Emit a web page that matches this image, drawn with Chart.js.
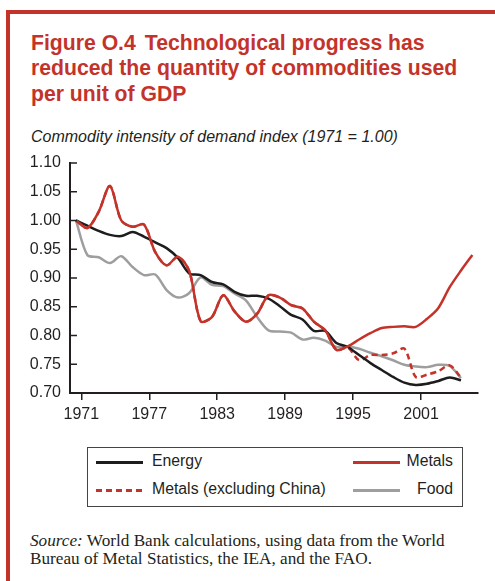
<!DOCTYPE html>
<html>
<head>
<meta charset="utf-8">
<script src="https://cdn.jsdelivr.net/npm/chart.js@4/dist/chart.umd.min.js"></script>
<style>
  body { margin: 0; width: 495px; height: 581px; background: #fff; position: relative; overflow: hidden; font-family: "Liberation Sans", Arial, sans-serif; color: #231f20; }
  .bar-top { position: absolute; left: 6px; top: 10px; width: 489px; height: 4px; background: #c4332a; }
  .bar-left { position: absolute; left: 6px; top: 10px; width: 4px; height: 571px; background: #c4332a; }
  h1 { position: absolute; left: 31px; top: 30px; margin: 0; font-size: 21.2px; line-height: 25.3px; font-weight: bold; color: #c4332a; }
  h1 .gap { display: inline-block; width: 9px; }
  .subtitle { position: absolute; left: 31px; top: 127.5px; font-size: 16px; line-height: 18px; font-style: italic; }
  canvas { position: absolute; left: 0; top: 150px; }
  .legend { position: absolute; left: 87px; top: 447px; width: 376px; height: 60px; box-sizing: border-box; border: 1px solid #444; }
  .legend .item { position: absolute; font-size: 15.8px; line-height: 18px; white-space: nowrap; }
  .legend .swatch { position: absolute; width: 47px; height: 3px; }
  .source { position: absolute; left: 30px; top: 532px; font-family: "Liberation Serif", "Times New Roman", serif; font-size: 17.2px; line-height: 18.3px; }
</style>
</head>
<body>
<div class="bar-top"></div>
<div class="bar-left"></div>
<h1>Figure O.4<span class="gap"></span>Technological progress has<br>reduced the quantity of commodities used<br>per unit of GDP</h1>
<div class="subtitle">Commodity intensity of demand index (1971 = 1.00)</div>
<canvas id="chart" width="495" height="280"></canvas>
<div class="legend" id="legend"></div>
<div class="source"><i>Source:</i> World Bank calculations, using data from the World<br>Bureau of Metal Statistics, the IEA, and the FAO.</div>
<script>
const years = [
  1971, 1972, 1973, 1974, 1975, 1976, 1977, 1978, 1979, 1980,
  1981, 1982, 1983, 1984, 1985, 1986, 1987, 1988, 1989, 1990,
  1991, 1992, 1993, 1994, 1995, 1996, 1997, 1998, 1999, 2000,
  2001, 2002, 2003, 2004, 2005, 2006
]

const energy = [
  1.000, 0.991, 0.982, 0.975, 0.973, 0.980, 0.972, 0.962, 0.952, 0.935,
  0.908, 0.905, 0.893, 0.889, 0.876, 0.869, 0.869, 0.864, 0.851, 0.836,
  0.828, 0.808, 0.808, 0.787, 0.780, 0.766, 0.752, 0.740, 0.728, 0.718,
  0.714, 0.716, 0.721, 0.727, 0.722
]

const metals = [
  1.000, 0.987, 1.015, 1.060, 1.000, 0.989, 0.993, 0.945, 0.922, 0.937,
  0.912, 0.825, 0.832, 0.870, 0.842, 0.824, 0.838, 0.870, 0.866, 0.853,
  0.847, 0.824, 0.809, 0.775, 0.781, 0.793, 0.804, 0.813, 0.815, 0.816,
  0.815, 0.829, 0.848, 0.884, 0.913, 0.940
]

const metalsExChina = [
  1.000, 0.987, 1.015, 1.060, 1.000, 0.989, 0.993, 0.945, 0.922, 0.937,
  0.912, 0.825, 0.832, 0.870, 0.842, 0.824, 0.838, 0.870, 0.866, 0.853,
  0.847, 0.824, 0.809, 0.775, 0.779, 0.757, 0.766, 0.766, 0.769, 0.777,
  0.728, 0.732, 0.738, 0.748, 0.727
]

const food = [
  1.000, 0.940, 0.936, 0.926, 0.938, 0.919, 0.905, 0.906, 0.879, 0.866,
  0.874, 0.901, 0.888, 0.886, 0.873, 0.861, 0.832, 0.809, 0.807, 0.805,
  0.793, 0.796, 0.791, 0.780, 0.781, 0.777, 0.770, 0.764, 0.757, 0.749,
  0.746, 0.745, 0.749, 0.747, 0.726
]

const xTickYears = [1971, 1977, 1983, 1989, 1995, 2001]
const yTicks = [0.70, 0.75, 0.80, 0.85, 0.90, 0.95, 1.00, 1.05, 1.10]

const red = '#c4332a'
const black = '#1e1c1c'
const grey = '#9e9e9e'
const ink = '#231f20'

const toPoints = values => values.map((value, i) => ({ x: years[i], y: value }))

const series = [
  { label: 'Energy', values: energy, color: black, dash: [], order: 1 },
  { label: 'Metals', values: metals, color: red, dash: [], order: 0 },
  { label: 'Metals (excluding China)', values: metalsExChina, color: red, dash: [6, 4], order: 2 },
  { label: 'Food', values: food, color: grey, dash: [], order: 3 },
]

// y ticks in the original point inwards, into the plot
const innerTicks = {
  id: 'innerTicks',
  afterDraw(chart) {
    const { ctx, chartArea, scales: { y } } = chart
    ctx.save()
    ctx.strokeStyle = ink
    ctx.lineWidth = 1.5
    y.ticks.forEach(tick => {
      const py = y.getPixelForValue(tick.value)
      ctx.beginPath()
      ctx.moveTo(chartArea.left, py)
      ctx.lineTo(chartArea.left + 7, py)
      ctx.stroke()
    })
    ctx.restore()
  }
}

Chart.defaults.font.family = '"Liberation Sans", Arial, sans-serif'
Chart.defaults.font.size = 16
Chart.defaults.color = ink

const chart = new Chart(document.getElementById('chart'), {
  type: 'line',
  data: {
    datasets: series.map(s => ({
      label: s.label,
      data: toPoints(s.values),
      borderColor: s.color,
      borderDash: s.dash,
      borderWidth: 2.5,
      pointRadius: 0,
      tension: 0.3,
      fill: false,
      order: s.order,
    }))
  },
  options: {
    responsive: false,
    animation: false,
    events: [],
    layout: { padding: { top: 13, right: 17, left: 0, bottom: 0 } },
    plugins: { legend: { display: false }, tooltip: { enabled: false } },
    scales: {
      x: {
        type: 'linear',
        min: 1970.47,
        max: 2006.5,
        // the printed ticks sit about half a year right of the data points
        afterBuildTicks: scale => { scale.ticks = xTickYears.map(v => ({ value: v + 0.47 })) },
        afterFit: scale => { scale.height = 37; scale.paddingLeft = 0; scale.paddingRight = 0 },
        ticks: { padding: 5, maxRotation: 0, callback: value => String(Math.floor(value)) },
        grid: { drawOnChartArea: false, drawTicks: true, tickLength: 7, color: ink, lineWidth: 1.5 },
        border: { display: true, color: ink, width: 2 },
      },
      y: {
        min: 0.70,
        max: 1.10,
        afterBuildTicks: scale => { scale.ticks = yTicks.map(v => ({ value: v })) },
        afterFit: scale => { scale.width = 70; scale.paddingTop = 0; scale.paddingBottom = 0 },
        ticks: { padding: 9, callback: value => value.toFixed(2) },
        grid: { display: false, drawTicks: false },
        border: { display: true, color: ink, width: 2 },
      }
    }
  },
  plugins: [innerTicks]
})

// legend in two columns, as in the printed figure
const legend = document.getElementById('legend')
const slots = [
  { left: 8, top: 13 },
  { left: 265, top: 13, right: true },
  { left: 8, top: 41 },
  { left: 265, top: 41, right: true },
]
chart.data.datasets.forEach((dataset, i) => {
  const slot = slots[i]
  const swatch = document.createElement('div')
  swatch.className = 'swatch'
  swatch.style.left = slot.left + 'px'
  swatch.style.top = slot.top + 'px'
  if (dataset.borderDash.length) {
    swatch.style.background = `repeating-linear-gradient(90deg, ${dataset.borderColor} 0 6px, transparent 6px 10px)`
  } else {
    swatch.style.background = dataset.borderColor
  }
  legend.appendChild(swatch)

  const text = document.createElement('div')
  text.className = 'item'
  text.textContent = dataset.label
  text.style.top = (slot.top - 9) + 'px'
  if (slot.right) {
    text.style.right = '9px'
  } else {
    text.style.left = (slot.left + 56) + 'px'
  }
  legend.appendChild(text)
})
</script>
</body>
</html>
